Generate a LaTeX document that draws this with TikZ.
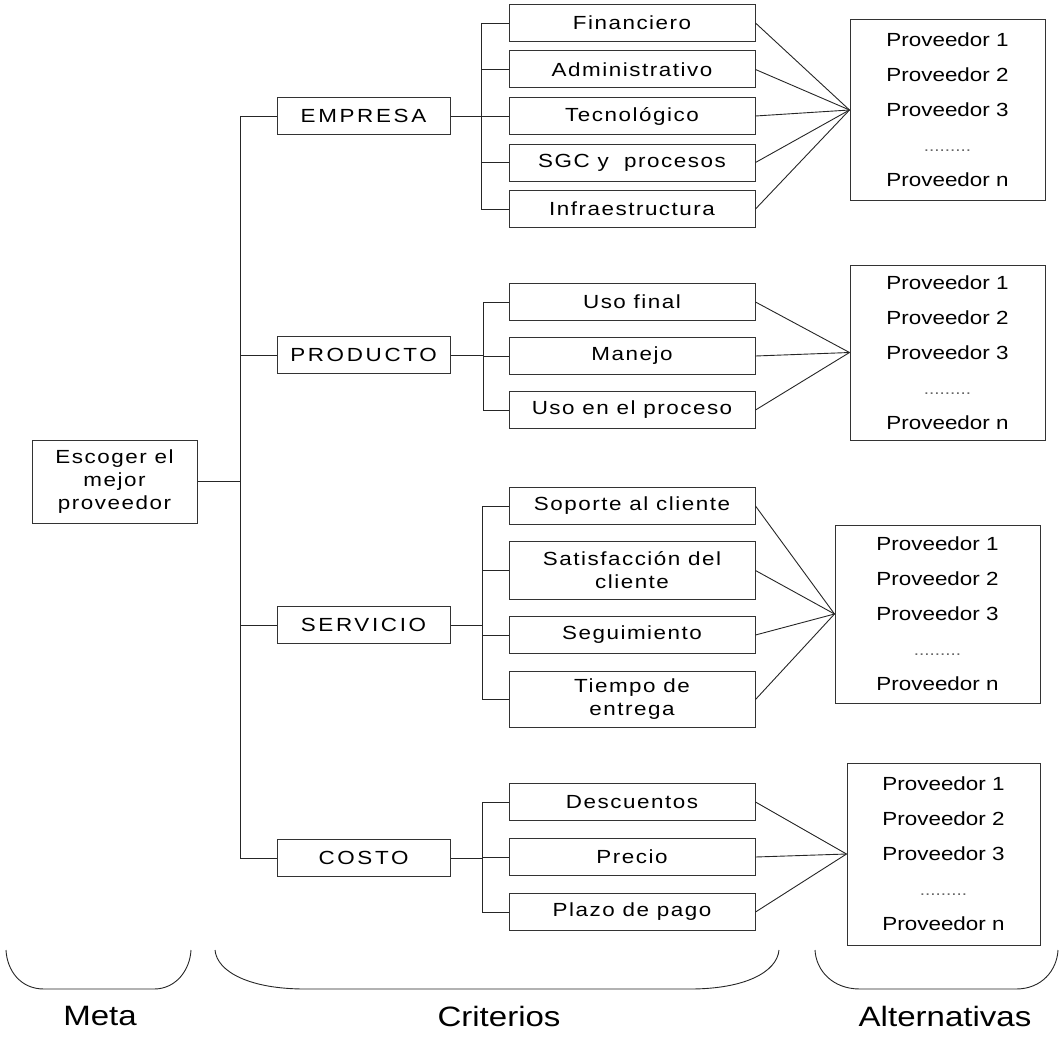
\documentclass[tikz,border=0pt]{standalone}
\usepackage{fontspec}
\setmainfont{Liberation Sans}[FakeStretch=1.18]
\newfontfamily\boxfont{Liberation Sans}[FakeStretch=1.18, LetterSpace=8]
\newfontfamily\capfont{Liberation Sans}[FakeStretch=1.18, LetterSpace=14]

\begin{document}
\begin{tikzpicture}[
                x = 1pt, y = -1pt, % one unit per pixel, downwards
                line width = 0.9pt, draw = black!85, % line style
                font = \fontsize{19}{23}\selectfont
            ]

            \tikzstyle{box}=[draw = black!80, line width = 1pt, align = center,
            inner sep = 2pt, font = \boxfont\fontsize{19}{23}\selectfont]
            \tikzstyle{cat}=[box, minimum width = 173pt, minimum height = 37pt,
            font = \capfont\fontsize{19}{23}\selectfont]
            \tikzstyle{sub}=[box, minimum width = 246pt, minimum height = 37pt]
            \tikzstyle{alt}=[box, minimum width = 195pt,
            font = \normalfont\fontsize{19}{35}\selectfont]
            \tikzstyle{tag}=[font = \fontsize{28}{30}\selectfont]
            \newcommand{\provs}{Proveedor 1\\Proveedor 2\\Proveedor 3\\
            {\fontsize{16}{35}\selectfont\color{black!60}.........}\\Proveedor n}

            \useasboundingbox (0,0) rectangle (1062,1038);

            % meta
            \node (goal) [box, minimum width = 165pt, minimum height = 83pt] at
            (114.5,481.5) {Escoger el\\mejor\\proveedor};

            % criterios
            \node (emp) [cat] at (363.5,116) {EMPRESA}; \node (pro) [cat] at
            (363.5,355) {PRODUCTO}; \node (ser) [cat] at (363.5,625) {SERVICIO};
            \node (cos) [cat] at (363.5,858) {COSTO};

            \node (e1) [sub] at (632,23) {Financiero}; \node (e2) [sub,
            node distance = 46.5pt, below of=e1] {Administrativo}; \node (e3)
            [sub, node distance = 46.5pt, below of=e2] {Tecnológico}; \node (e4)
            [sub, node distance = 46.5pt, below of=e3] {SGC y\ \ procesos};
            \node (e5) [sub, node distance = 46.5pt, below of=e4] {Infraestructura};

            \node (p1) [sub] at (632,302) {Uso final}; \node (p2) [sub,
            node distance = 54pt, below of=p1] {Manejo}; \node (p3) [sub,
            node distance = 54pt, below of=p2] {Uso en el proceso};

            \node (s1) [sub] at (632,506) {Soporte al cliente}; \node (s2) [sub,
            minimum height = 58pt, node distance = 64.5pt, below of=s1]
            {Satisfacción del\\cliente}; \node (s3) [sub, node distance = 64.5pt,
            below of=s2] {Seguimiento}; \node (s4) [sub, minimum height = 56pt,
            node distance = 64.5pt, below of=s3] {Tiempo de\\entrega};

            \node (c1) [sub] at (632,802) {Descuentos}; \node (c2) [sub,
            node distance = 55pt, below of=c1] {Precio}; \node (c3) [sub,
            node distance = 55pt, below of=c2] {Plazo de pago};

            % alternativas
            \node (alt1) [alt, minimum height = 180pt] at (947.5,110) {\provs};
            \node (alt2) [alt, minimum height = 175pt] at (947.5,352.5) {\provs};
            \node (alt3) [alt, minimum width = 205pt, minimum height = 178pt] at
            (937.5,614) {\provs}; \node (alt4) [alt, minimum width = 193pt,
            minimum height = 182pt] at (943.5,854) {\provs};

            % tree lines
            \coordinate (trunk) at (240,481.5); \coordinate (be) at (481,116);
            \coordinate (bp) at (483,355); \coordinate (bs) at (482,625);
            \coordinate (bc) at (482,858);

            \path[-] (goal) edge (trunk); \path[-] (emp.west -| trunk) edge
            (cos.west -| trunk); \path[-] (emp.west -| trunk) edge (emp);
            \path[-] (pro.west -| trunk) edge (pro); \path[-] (ser.west -| trunk)
            edge (ser); \path[-] (cos.west -| trunk) edge (cos);

            \path[-] (emp) edge (be); \path[-] (e1.west -| be) edge (e5.west -| be);
            \path[-] (e1.west -| be) edge (e1); \path[-] (e2.west -| be) edge (e2);
            \path[-] (e3.west -| be) edge (e3); \path[-] (e4.west -| be) edge (e4);
            \path[-] (e5.west -| be) edge (e5);

            \path[-] (pro) edge (bp); \path[-] (p1.west -| bp) edge (p3.west -| bp);
            \path[-] (p1.west -| bp) edge (p1); \path[-] (p2.west -| bp) edge (p2);
            \path[-] (p3.west -| bp) edge (p3);

            \path[-] (ser) edge (bs); \path[-] (s1.west -| bs) edge (s4.west -| bs);
            \path[-] (s1.west -| bs) edge (s1); \path[-] (s2.west -| bs) edge (s2);
            \path[-] (s3.west -| bs) edge (s3); \path[-] (s4.west -| bs) edge (s4);

            \path[-] (cos) edge (bc); \path[-] (c1.west -| bc) edge (c3.west -| bc);
            \path[-] (c1.west -| bc) edge (c1); \path[-] (c2.west -| bc) edge (c2);
            \path[-] (c3.west -| bc) edge (c3);

            % to the alternatives
            \path[-] (e1.east) edge (alt1.west); \path[-] (e2.east) edge (alt1.west);
            \path[-] (e3.east) edge (alt1.west); \path[-] (e4.east) edge (alt1.west);
            \path[-] (e5.east) edge (alt1.west);
            \path[-] (p1.east) edge (alt2.west); \path[-] (p2.east) edge (alt2.west);
            \path[-] (p3.east) edge (alt2.west);
            \path[-] (s1.east) edge (alt3.west); \path[-] (s2.east) edge (alt3.west);
            \path[-] (s3.east) edge (alt3.west); \path[-] (s4.east) edge (alt3.west);
            \path[-] (c1.east) edge (alt4.west); \path[-] (c2.east) edge (alt4.west);
            \path[-] (c3.east) edge (alt4.west);

            % llaves
            \draw (6,950) .. controls (7,970) and (20,989) .. (44,989) -- (154,989)
            .. controls (176,989) and (190,970) .. (191,950);
            \draw (215,950) .. controls (217,972) and (250,989) .. (305,989) --
            (690,989) .. controls (745,989) and (777,972) .. (779,950);
            \draw (815,950) .. controls (816,970) and (832,989) .. (860,989) --
            (1016,989) .. controls (1042,989) and (1057,970) .. (1058,950);

            \node (meta) [tag] at (100,1016) {Meta}; \node (crit) [tag] at
            (499,1016) {Criterios}; \node (alts) [tag] at (945,1016) {Alternativas};

        \end{tikzpicture}
\end{document}
